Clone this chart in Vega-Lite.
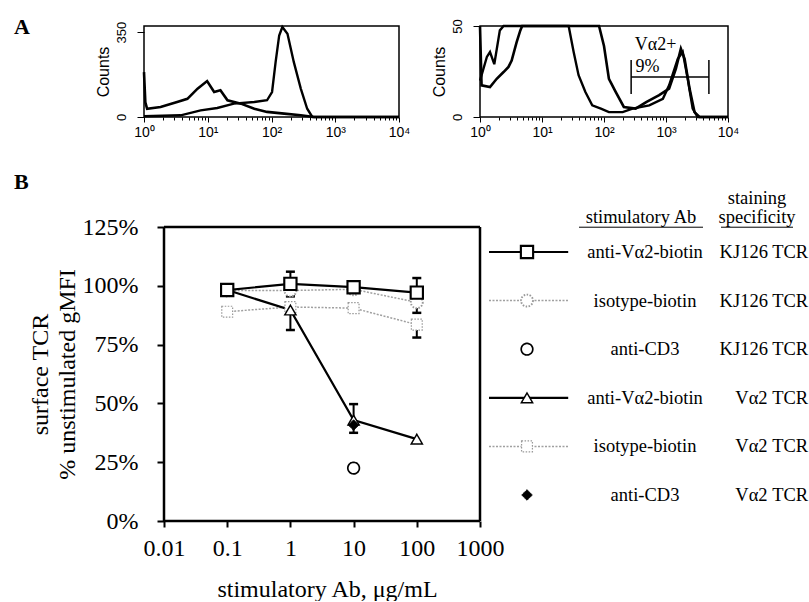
{
  "$schema": "https://vega.github.io/schema/vega-lite/v6.json",
  "background": "white",
  "padding": {"left": 13, "top": 15, "right": 0, "bottom": 0},
  "config": {
    "view": {"stroke": null},
    "font": "Liberation Serif",
    "axis": {"grid": false, "labelColor": "black", "tickColor": "black", "titleColor": "black", "domain": false}
  },
  "datasets": {
    "histA": [
      {"line": "thin", "x": 1, "count": 3}, {"line": "thin", "x": 3.76, "count": 7}, {"line": "thin", "x": 7.74, "count": 27},
      {"line": "thin", "x": 14.1, "count": 37}, {"line": "thin", "x": 25.7, "count": 55}, {"line": "thin", "x": 53.7, "count": 62},
      {"line": "thin", "x": 85.1, "count": 69}, {"line": "thin", "x": 102, "count": 103}, {"line": "thin", "x": 116, "count": 226},
      {"line": "thin", "x": 132, "count": 336}, {"line": "thin", "x": 148, "count": 371}, {"line": "thin", "x": 178, "count": 343},
      {"line": "thin", "x": 224, "count": 226}, {"line": "thin", "x": 288, "count": 117}, {"line": "thin", "x": 363, "count": 34},
      {"line": "thin", "x": 437, "count": 0}, {"line": "thin", "x": 10000, "count": 0},
      {"line": "thick", "x": 1, "count": 185}, {"line": "thick", "x": 1.05, "count": 60}, {"line": "thick", "x": 1.12, "count": 34},
      {"line": "thick", "x": 1.82, "count": 41}, {"line": "thick", "x": 3.31, "count": 62}, {"line": "thick", "x": 4.79, "count": 75},
      {"line": "thick", "x": 6.92, "count": 117}, {"line": "thick", "x": 9.77, "count": 148}, {"line": "thick", "x": 12.6, "count": 103},
      {"line": "thick", "x": 15.8, "count": 110}, {"line": "thick", "x": 20.4, "count": 69}, {"line": "thick", "x": 33.1, "count": 55},
      {"line": "thick", "x": 53.7, "count": 34}, {"line": "thick", "x": 85.1, "count": 21}, {"line": "thick", "x": 158, "count": 14},
      {"line": "thick", "x": 288, "count": 7}, {"line": "thick", "x": 468, "count": 0}, {"line": "thick", "x": 10000, "count": 0}
    ],
    "histB": [
      {"line": "thick", "x": 1, "count": 50}, {"line": "thick", "x": 1.06, "count": 17.4}, {"line": "thick", "x": 1.45, "count": 16.5},
      {"line": "thick", "x": 1.86, "count": 21}, {"line": "thick", "x": 2.4, "count": 24.7}, {"line": "thick", "x": 2.88, "count": 27.5},
      {"line": "thick", "x": 3.24, "count": 31}, {"line": "thick", "x": 3.89, "count": 41}, {"line": "thick", "x": 4.47, "count": 47.6},
      {"line": "thick", "x": 4.79, "count": 50}, {"line": "thick", "x": 83.2, "count": 50}, {"line": "thick", "x": 100, "count": 39},
      {"line": "thick", "x": 120, "count": 21}, {"line": "thick", "x": 155, "count": 13.7}, {"line": "thick", "x": 209, "count": 5.5},
      {"line": "thick", "x": 324, "count": 4.6}, {"line": "thick", "x": 479, "count": 8.2}, {"line": "thick", "x": 776, "count": 12},
      {"line": "thick", "x": 1122, "count": 15.6}, {"line": "thick", "x": 1445, "count": 26.6}, {"line": "thick", "x": 1738, "count": 37.5},
      {"line": "thick", "x": 1995, "count": 32}, {"line": "thick", "x": 2399, "count": 15.6}, {"line": "thick", "x": 2884, "count": 2.7},
      {"line": "thick", "x": 3467, "count": 0}, {"line": "thick", "x": 10000, "count": 0},
      {"line": "thin", "x": 1, "count": 20}, {"line": "thin", "x": 1.29, "count": 33}, {"line": "thin", "x": 1.45, "count": 35.7},
      {"line": "thin", "x": 1.7, "count": 29}, {"line": "thin", "x": 2.09, "count": 47.6}, {"line": "thin", "x": 2.4, "count": 50},
      {"line": "thin", "x": 26.9, "count": 50}, {"line": "thin", "x": 32.4, "count": 35.7}, {"line": "thin", "x": 38.9, "count": 23},
      {"line": "thin", "x": 50.1, "count": 13.7}, {"line": "thin", "x": 64.6, "count": 6.4}, {"line": "thin", "x": 89.1, "count": 4.6},
      {"line": "thin", "x": 120, "count": 2.7}, {"line": "thin", "x": 200, "count": 2.7}, {"line": "thin", "x": 288, "count": 4.6},
      {"line": "thin", "x": 537, "count": 6.4}, {"line": "thin", "x": 891, "count": 10}, {"line": "thin", "x": 1122, "count": 17.4},
      {"line": "thin", "x": 1549, "count": 32}, {"line": "thin", "x": 1862, "count": 35.7}, {"line": "thin", "x": 2239, "count": 21},
      {"line": "thin", "x": 2692, "count": 4.6}, {"line": "thin", "x": 3236, "count": 0}, {"line": "thin", "x": 10000, "count": 0}
    ],
    "gateBar": [{"from": 274, "to": 4920, "level": 22}],
    "gateEnds": [{"at": 274, "lo": 12.6, "hi": 31.3}, {"at": 4920, "lo": 12.6, "hi": 31.3}],
    "gateText": [{"x": 680, "y": 39.7, "label": "Vα2+"}, {"x": 505, "y": 27.5, "label": "9%"}],
    "pts": [
      {"series": "s5", "dose": 0.1, "pct": 89}, {"series": "s5", "dose": 1, "pct": 91}, {"series": "s5", "dose": 10, "pct": 90.5}, {"series": "s5", "dose": 100, "pct": 83.5},
      {"series": "s2", "dose": 0.1, "pct": 98}, {"series": "s2", "dose": 1, "pct": 98}, {"series": "s2", "dose": 10, "pct": 98.5}, {"series": "s2", "dose": 100, "pct": 93},
      {"series": "s4", "dose": 0.1, "pct": 98.2}, {"series": "s4", "dose": 1, "pct": 89.7}, {"series": "s4", "dose": 10, "pct": 42.9}, {"series": "s4", "dose": 100, "pct": 34.8},
      {"series": "s1", "dose": 0.1, "pct": 98.2}, {"series": "s1", "dose": 1, "pct": 100.8}, {"series": "s1", "dose": 10, "pct": 99.4}, {"series": "s1", "dose": 100, "pct": 97.1},
      {"series": "s3", "dose": 10, "pct": 22.5},
      {"series": "s6", "dose": 10, "pct": 40.8}
    ],
    "err": [
      {"series": "s1", "dose": 1, "from": 100.8, "to": 106},
      {"series": "s1", "dose": 100, "from": 97.1, "to": 103.3},
      {"series": "s2", "dose": 1, "from": 98, "to": 95.5},
      {"series": "s2", "dose": 100, "from": 93, "to": 88.5},
      {"series": "s4", "dose": 1, "from": 89.7, "to": 81.2},
      {"series": "s4", "dose": 10, "from": 42.9, "to": 49.7},
      {"series": "s5", "dose": 100, "from": 83.5, "to": 78},
      {"series": "s6", "dose": 10, "from": 40.8, "to": 37.5}
    ],
    "legend": [
      {"series": "s1", "row": 1, "stim": "anti-Vα2-biotin", "stain": "KJ126 TCR"},
      {"series": "s2", "row": 2, "stim": "isotype-biotin", "stain": "KJ126 TCR"},
      {"series": "s3", "row": 3, "stim": "anti-CD3", "stain": "KJ126 TCR"},
      {"series": "s4", "row": 4, "stim": "anti-Vα2-biotin", "stain": "Vα2 TCR"},
      {"series": "s5", "row": 5, "stim": "isotype-biotin", "stain": "Vα2 TCR"},
      {"series": "s6", "row": 6, "stim": "anti-CD3", "stain": "Vα2 TCR"}
    ]
  },
  "spacing": 31,
  "vconcat": [
    {
      "spacing": 19,
      "hconcat": [
        {
          "width": 255, "height": 91,
          "view": {"stroke": "black", "strokeWidth": 1.5},
          "title": {"text": "A", "anchor": "start", "frame": "group", "dx": -130, "dy": 35, "offset": 0, "baseline": "alphabetic", "font": "Liberation Serif", "fontSize": 22, "fontWeight": "bold", "color": "black"},
          "data": {"name": "histA"},
          "mark": {"type": "line", "color": "black"},
          "encoding": {
            "x": {"field": "x", "type": "quantitative", "scale": {"type": "log", "domain": [1, 10000], "nice": false},
              "axis": {"title": null, "values": [1,2,3,4,5,6,7,8,9,10,20,30,40,50,60,70,80,90,100,200,300,400,500,600,700,800,900,1000,2000,3000,4000,5000,6000,7000,8000,9000,10000],
                "labelExpr": "indexof([1,10,100,1000,10000], datum.value) >= 0 ? '10' + ['⁰','¹','²','³','⁴'][indexof([1,10,100,1000,10000], datum.value)] : ''",
                "tickSize": {"condition": {"test": "indexof([1,10,100,1000,10000], datum.value) >= 0", "value": 5}, "value": 3},
                "labelFont": "Liberation Sans", "labelFontSize": 14, "labelPadding": 3, "labelOverlap": false, "labelFlush": false}},
            "y": {"field": "count", "type": "quantitative", "scale": {"domain": [0, 375], "nice": false},
              "axis": {"values": [0, 350], "labelAngle": 270, "title": "Counts", "titleFont": "Liberation Sans", "titleFontSize": 16, "titleFontWeight": "normal", "titlePadding": 4, "labelFont": "Liberation Sans", "labelFontSize": 13, "tickSize": 7, "labelPadding": 9}},
            "detail": {"field": "line"},
            "strokeWidth": {"field": "line", "type": "nominal", "scale": {"domain": ["thick", "thin"], "range": [2.6, 1]}, "legend": null}
          }
        },
        {
          "width": 248, "height": 91,
          "view": {"stroke": "black", "strokeWidth": 1.5},
          "layer": [
            {
              "data": {"name": "histB"},
              "mark": {"type": "line", "color": "black"},
              "encoding": {
                "x": {"field": "x", "type": "quantitative", "scale": {"type": "log", "domain": [1, 10000], "nice": false},
                  "axis": {"title": null, "values": [1,2,3,4,5,6,7,8,9,10,20,30,40,50,60,70,80,90,100,200,300,400,500,600,700,800,900,1000,2000,3000,4000,5000,6000,7000,8000,9000,10000],
                    "labelExpr": "indexof([1,10,100,1000,10000], datum.value) >= 0 ? '10' + ['⁰','¹','²','³','⁴'][indexof([1,10,100,1000,10000], datum.value)] : ''",
                    "tickSize": {"condition": {"test": "indexof([1,10,100,1000,10000], datum.value) >= 0", "value": 5}, "value": 3},
                    "labelFont": "Liberation Sans", "labelFontSize": 14, "labelPadding": 3, "labelOverlap": false, "labelFlush": false}},
                "y": {"field": "count", "type": "quantitative", "scale": {"domain": [0, 50], "nice": false},
                  "axis": {"values": [0, 50], "labelAngle": 270, "title": "Counts", "titleFont": "Liberation Sans", "titleFontSize": 16, "titleFontWeight": "normal", "titlePadding": 4, "labelFont": "Liberation Sans", "labelFontSize": 13, "tickSize": 7, "labelPadding": 9}},
                "detail": {"field": "line"},
                "strokeWidth": {"field": "line", "type": "nominal", "scale": {"domain": ["thick", "thin"], "range": [2.6, 1]}, "legend": null}
              }
            },
            {
              "data": {"name": "gateBar"},
              "mark": {"type": "rule", "color": "black", "strokeWidth": 1.5},
              "encoding": {
                "x": {"field": "from", "type": "quantitative", "scale": {"type": "log", "domain": [1, 10000], "nice": false}},
                "x2": {"field": "to"},
                "y": {"field": "level", "type": "quantitative", "scale": {"domain": [0, 50], "nice": false}}
              }
            },
            {
              "data": {"name": "gateEnds"},
              "mark": {"type": "rule", "color": "black", "strokeWidth": 1.5},
              "encoding": {
                "x": {"field": "at", "type": "quantitative", "scale": {"type": "log", "domain": [1, 10000], "nice": false}},
                "y": {"field": "lo", "type": "quantitative", "scale": {"domain": [0, 50], "nice": false}},
                "y2": {"field": "hi"}
              }
            },
            {
              "data": {"name": "gateText"},
              "mark": {"type": "text", "font": "Liberation Serif", "fontSize": 18, "color": "black", "align": "center", "baseline": "middle"},
              "encoding": {
                "x": {"field": "x", "type": "quantitative", "scale": {"type": "log", "domain": [1, 10000], "nice": false}},
                "y": {"field": "y", "type": "quantitative", "scale": {"domain": [0, 50], "nice": false}},
                "text": {"field": "label"}
              }
            }
          ]
        }
      ]
    },
    {
      "width": 336, "height": 294,
      "title": {"text": "B", "anchor": "start", "frame": "group", "dx": -130, "dy": 59, "offset": 37, "baseline": "alphabetic", "font": "Liberation Serif", "fontSize": 22, "fontWeight": "bold", "color": "black"},
      "resolve": {"scale": {"x": "independent", "y": "independent"}},
      "layer": [
        {
          "layer": [
            {
              "data": {"name": "pts"},
              "transform": [{"filter": "datum.series === 's2' || datum.series === 's5'"}],
              "mark": {"type": "line", "color": "#a0a0a0", "strokeWidth": 1.5, "strokeDash": [2, 1.5]},
              "encoding": {
                "x": {"field": "dose", "type": "quantitative", "scale": {"type": "log", "domain": [0.01, 1000], "range": [20, 336], "nice": false},
                  "axis": {"values": [0.01, 0.1, 1, 10, 100, 1000], "format": "~g", "labelFont": "Liberation Serif", "labelFontSize": 24, "tickSize": 6, "tickWidth": 2, "labelFlush": false, "labelOverlap": false, "labelPadding": 9,
                    "title": "stimulatory Ab, μg/mL", "titleFont": "Liberation Serif", "titleFontSize": 24, "titleFontWeight": "normal", "titlePadding": 17, "titleX": 183}},
                "y": {"field": "pct", "type": "quantitative", "scale": {"domain": [0, 125], "nice": false},
                  "axis": {"values": [0, 25, 50, 75, 100, 125], "labelExpr": "datum.value + '%'", "offset": -20, "tickSize": 7, "tickWidth": 2, "labelPadding": 19, "labelFont": "Liberation Serif", "labelFontSize": 24,
                    "title": ["surface TCR", "% unstimulated gMFI"], "titleFont": "Liberation Serif", "titleFontSize": 24, "titleFontWeight": "normal", "titleLineHeight": 27, "titlePadding": 3}},
                "detail": {"field": "series"}
              }
            },
            {
              "data": {"name": "pts"},
              "transform": [{"filter": "datum.series === 's1' || datum.series === 's4'"}],
              "mark": {"type": "line", "color": "black", "strokeWidth": 2.2},
              "encoding": {
                "x": {"field": "dose", "type": "quantitative", "scale": {"type": "log", "domain": [0.01, 1000], "range": [20, 336], "nice": false}},
                "y": {"field": "pct", "type": "quantitative", "scale": {"domain": [0, 125], "nice": false}},
                "detail": {"field": "series"}
              }
            },
            {
              "data": {"name": "err"},
              "mark": {"type": "rule", "color": "black", "strokeWidth": 2},
              "encoding": {
                "x": {"field": "dose", "type": "quantitative", "scale": {"type": "log", "domain": [0.01, 1000], "range": [20, 336], "nice": false}},
                "y": {"field": "from", "type": "quantitative", "scale": {"domain": [0, 125], "nice": false}},
                "y2": {"field": "to"}
              }
            },
            {
              "data": {"name": "err"},
              "mark": {"type": "tick", "orient": "horizontal", "color": "black", "size": 9, "thickness": 2.5, "opacity": 1},
              "encoding": {
                "x": {"field": "dose", "type": "quantitative", "scale": {"type": "log", "domain": [0.01, 1000], "range": [20, 336], "nice": false}},
                "y": {"field": "to", "type": "quantitative", "scale": {"domain": [0, 125], "nice": false}}
              }
            },
            {
              "data": {"name": "pts"},
              "mark": {"type": "point", "filled": true, "opacity": 1, "fillOpacity": 1, "strokeOpacity": 1},
              "encoding": {
                "x": {"field": "dose", "type": "quantitative", "scale": {"type": "log", "domain": [0.01, 1000], "range": [20, 336], "nice": false}},
                "y": {"field": "pct", "type": "quantitative", "scale": {"domain": [0, 125], "nice": false}},
                "shape": {"field": "series", "type": "nominal", "scale": {"domain": ["s1","s2","s3","s4","s5","s6"], "range": ["square","circle","circle","triangle-up","square","diamond"]}, "legend": null},
                "stroke": {"field": "series", "type": "nominal", "scale": {"domain": ["s1","s2","s3","s4","s5","s6"], "range": ["black","#999999","black","black","#999999","black"]}, "legend": null},
                "fill": {"field": "series", "type": "nominal", "scale": {"domain": ["s1","s2","s3","s4","s5","s6"], "range": ["white","white","white","white","white","black"]}, "legend": null},
                "strokeDash": {"field": "series", "type": "nominal", "scale": {"domain": ["s1","s2","s3","s4","s5","s6"], "range": [[1,0],[1.5,1.5],[1,0],[1,0],[1.5,1.5],[1,0]]}, "legend": null},
                "strokeWidth": {"field": "series", "type": "nominal", "scale": {"domain": ["s1","s2","s3","s4","s5","s6"], "range": [2.5,1.5,2.5,2.5,1.5,1]}, "legend": null},
                "size": {"field": "series", "type": "nominal", "scale": {"domain": ["s1","s2","s3","s4","s5","s6"], "range": [150,110,110,130,130,90]}, "legend": null}
              }
            },
            {
              "mark": {"type": "rule", "color": "black", "strokeWidth": 2.5},
              "data": {"values": [{}]},
              "encoding": {
                "x": {"datum": 0.01, "type": "quantitative", "scale": {"type": "log", "domain": [0.01, 1000], "range": [20, 336], "nice": false}},
                "y": {"datum": 0, "type": "quantitative", "scale": {"domain": [0, 125], "nice": false}},
                "y2": {"datum": 125}
              }
            },
            {
              "mark": {"type": "rule", "color": "black", "strokeWidth": 2.5},
              "data": {"values": [{}]},
              "encoding": {
                "x": {"datum": 1000, "type": "quantitative", "scale": {"type": "log", "domain": [0.01, 1000], "range": [20, 336], "nice": false}},
                "y": {"datum": 0, "type": "quantitative", "scale": {"domain": [0, 125], "nice": false}},
                "y2": {"datum": 125}
              }
            },
            {
              "mark": {"type": "rule", "color": "black", "strokeWidth": 2.5},
              "data": {"values": [{}]},
              "encoding": {
                "x": {"datum": 0.01, "type": "quantitative", "scale": {"type": "log", "domain": [0.01, 1000], "range": [20, 336], "nice": false}},
                "x2": {"datum": 1000},
                "y": {"datum": 0, "type": "quantitative", "scale": {"domain": [0, 125], "nice": false}}
              }
            },
            {
              "mark": {"type": "rule", "color": "black", "strokeWidth": 2.5},
              "data": {"values": [{}]},
              "encoding": {
                "x": {"datum": 0.01, "type": "quantitative", "scale": {"type": "log", "domain": [0.01, 1000], "range": [20, 336], "nice": false}},
                "x2": {"datum": 1000},
                "y": {"datum": 125, "type": "quantitative", "scale": {"domain": [0, 125], "nice": false}}
              }
            }
          ]
        },
        {
          "data": {"name": "legend"},
          "layer": [
            {
              "transform": [{"filter": "datum.series === 's2' || datum.series === 's5'"}],
              "mark": {"type": "rule", "color": "#a0a0a0", "strokeWidth": 1.5, "strokeDash": [2, 1.5]},
              "encoding": {
                "x": {"datum": 0, "type": "quantitative", "scale": {"domain": [0, 4], "range": [345, 665], "nice": false, "zero": false}, "axis": null},
                "x2": {"datum": 0.99},
                "y": {"field": "row", "type": "quantitative", "scale": {"domain": [0.4856, 6.535], "reverse": true, "nice": false, "zero": false}, "axis": null}
              }
            },
            {
              "transform": [{"filter": "datum.series === 's1' || datum.series === 's4'"}],
              "mark": {"type": "rule", "color": "black", "strokeWidth": 2.2},
              "encoding": {
                "x": {"datum": 0, "type": "quantitative", "scale": {"domain": [0, 4], "range": [345, 665], "nice": false, "zero": false}, "axis": null},
                "x2": {"datum": 0.99},
                "y": {"field": "row", "type": "quantitative", "scale": {"domain": [0.4856, 6.535], "reverse": true, "nice": false, "zero": false}, "axis": null}
              }
            },
            {
              "mark": {"type": "point", "filled": true, "opacity": 1, "fillOpacity": 1, "strokeOpacity": 1},
              "encoding": {
                "x": {"datum": 0.475, "type": "quantitative", "scale": {"domain": [0, 4], "range": [345, 665], "nice": false, "zero": false}, "axis": null},
                "y": {"field": "row", "type": "quantitative", "scale": {"domain": [0.4856, 6.535], "reverse": true, "nice": false, "zero": false}, "axis": null},
                "shape": {"field": "series", "type": "nominal", "scale": {"domain": ["s1","s2","s3","s4","s5","s6"], "range": ["square","circle","circle","triangle-up","square","diamond"]}, "legend": null},
                "stroke": {"field": "series", "type": "nominal", "scale": {"domain": ["s1","s2","s3","s4","s5","s6"], "range": ["black","#999999","black","black","#999999","black"]}, "legend": null},
                "fill": {"field": "series", "type": "nominal", "scale": {"domain": ["s1","s2","s3","s4","s5","s6"], "range": ["white","white","white","white","white","black"]}, "legend": null},
                "strokeDash": {"field": "series", "type": "nominal", "scale": {"domain": ["s1","s2","s3","s4","s5","s6"], "range": [[1,0],[1.5,1.5],[1,0],[1,0],[1.5,1.5],[1,0]]}, "legend": null},
                "strokeWidth": {"field": "series", "type": "nominal", "scale": {"domain": ["s1","s2","s3","s4","s5","s6"], "range": [2.5,1.5,2.5,2.5,1.5,1]}, "legend": null},
                "size": {"field": "series", "type": "nominal", "scale": {"domain": ["s1","s2","s3","s4","s5","s6"], "range": [150,110,110,130,130,90]}, "legend": null}
              }
            },
            {
              "mark": {"type": "text", "font": "Liberation Serif", "fontSize": 18.5, "color": "black", "align": "center", "baseline": "middle"},
              "encoding": {
                "x": {"datum": 1.95, "type": "quantitative", "scale": {"domain": [0, 4], "range": [345, 665], "nice": false, "zero": false}, "axis": null},
                "y": {"field": "row", "type": "quantitative", "scale": {"domain": [0.4856, 6.535], "reverse": true, "nice": false, "zero": false}, "axis": null},
                "text": {"field": "stim"}
              }
            },
            {
              "mark": {"type": "text", "font": "Liberation Serif", "fontSize": 18.5, "color": "black", "align": "right", "baseline": "middle"},
              "encoding": {
                "x": {"datum": 3.99, "type": "quantitative", "scale": {"domain": [0, 4], "range": [345, 665], "nice": false, "zero": false}, "axis": null},
                "y": {"field": "row", "type": "quantitative", "scale": {"domain": [0.4856, 6.535], "reverse": true, "nice": false, "zero": false}, "axis": null},
                "text": {"field": "stain"}
              }
            },
            {
              "data": {"values": [{"label": "stimulatory Ab"}]},
              "mark": {"type": "text", "font": "Liberation Serif", "fontSize": 18.5, "color": "black", "align": "center", "baseline": "middle"},
              "encoding": {
                "x": {"datum": 1.9, "type": "quantitative", "scale": {"domain": [0, 4], "range": [345, 665], "nice": false, "zero": false}, "axis": null},
                "y": {"datum": 0.28, "type": "quantitative", "scale": {"domain": [0.4856, 6.535], "reverse": true, "nice": false, "zero": false}, "axis": null},
                "text": {"field": "label"}
              }
            },
            {
              "data": {"values": [{"label": "specificity"}]},
              "mark": {"type": "text", "font": "Liberation Serif", "fontSize": 18.5, "color": "black", "align": "center", "baseline": "middle"},
              "encoding": {
                "x": {"datum": 3.35, "type": "quantitative", "scale": {"domain": [0, 4], "range": [345, 665], "nice": false, "zero": false}, "axis": null},
                "y": {"datum": 0.28, "type": "quantitative", "scale": {"domain": [0.4856, 6.535], "reverse": true, "nice": false, "zero": false}, "axis": null},
                "text": {"field": "label"}
              }
            },
            {
              "data": {"values": [{"label": "staining"}]},
              "mark": {"type": "text", "font": "Liberation Serif", "fontSize": 18.5, "color": "black", "align": "center", "baseline": "middle"},
              "encoding": {
                "x": {"datum": 3.35, "type": "quantitative", "scale": {"domain": [0, 4], "range": [345, 665], "nice": false, "zero": false}, "axis": null},
                "y": {"datum": -0.11, "type": "quantitative", "scale": {"domain": [0.4856, 6.535], "reverse": true, "nice": false, "zero": false}, "axis": null},
                "text": {"field": "label"}
              }
            },
            {
              "data": {"values": [{"label": "underline"}]},
              "mark": {"type": "rule", "color": "black", "strokeWidth": 1},
              "encoding": {
                "x": {"datum": 1.125, "type": "quantitative", "scale": {"domain": [0, 4], "range": [345, 665], "nice": false, "zero": false}, "axis": null},
                "x2": {"datum": 2.675},
                "y": {"datum": 0.49, "type": "quantitative", "scale": {"domain": [0.4856, 6.535], "reverse": true, "nice": false, "zero": false}, "axis": null}
              }
            },
            {
              "data": {"values": [{"label": "underline"}]},
              "mark": {"type": "rule", "color": "black", "strokeWidth": 1},
              "encoding": {
                "x": {"datum": 2.9, "type": "quantitative", "scale": {"domain": [0, 4], "range": [345, 665], "nice": false, "zero": false}, "axis": null},
                "x2": {"datum": 3.8},
                "y": {"datum": 0.49, "type": "quantitative", "scale": {"domain": [0.4856, 6.535], "reverse": true, "nice": false, "zero": false}, "axis": null}
              }
            }
          ]
        }
      ]
    }
  ]
}
